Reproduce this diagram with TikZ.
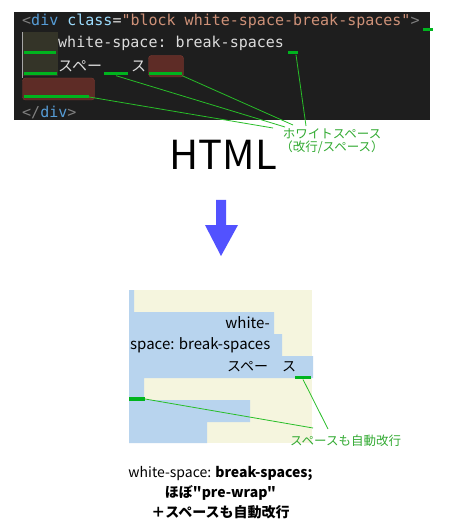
\documentclass[tikz,border=0pt]{standalone}
\usepackage{fontspec}
\setmonofont{DejaVu Sans Mono}
\newfontfamily\jp{Noto Sans CJK JP}
\definecolor{codebg}{RGB}{30,30,30}
\definecolor{cgray}{RGB}{128,128,128}
\definecolor{cblue}{RGB}{86,156,214}
\definecolor{clblue}{RGB}{156,220,254}
\definecolor{corange}{RGB}{206,145,120}
\definecolor{cwhite}{RGB}{220,220,220}
\definecolor{olivebox}{RGB}{52,52,40}
\definecolor{redfill}{RGB}{94,44,38}
\definecolor{redline}{RGB}{125,58,50}
\definecolor{mark}{RGB}{0,180,30}
\definecolor{gline}{RGB}{40,190,40}
\definecolor{glabel}{RGB}{50,170,50}
\definecolor{arrowblue}{RGB}{82,82,255}
\definecolor{pblue}{RGB}{184,212,238}
\definecolor{pbeige}{RGB}{245,245,222}
\begin{document}
\begin{tikzpicture}[x=1pt,y=-1pt,
  code/.style={anchor=west,inner sep=0pt,font=\ttfamily\fontsize{15}{15}\selectfont,text=cwhite},
  codejp/.style={anchor=west,inner sep=0pt,font=\jp\fontsize{15}{15}\selectfont,text=cwhite},
  gmark/.style={fill=mark,inner sep=0pt,minimum height=3pt},
  glink/.style={draw=gline,line width=0.8pt},
  glab/.style={inner sep=0pt,font=\jp\fontsize{12.5}{13}\selectfont,text=glabel,align=center},
  ptext/.style={inner sep=0pt,font=\jp\fontsize{14}{14}\selectfont,text=black},
  ptextl/.style={inner sep=0pt,font=\jp\fontsize{15}{15}\selectfont,text=black},
  btext/.style={inner sep=0pt,font=\jp\fontsize{14}{20}\selectfont,text=black,align=center}]
\useasboundingbox (0,0) rectangle (448,529);
\fill[white] (0,0) rectangle (448,529);
% code block
\fill[codebg] (14,12) rectangle (430,120);
\fill[olivebox] (22,32) rectangle (58,76);
\draw[redline,fill=redfill,rounded corners=3pt] (148.5,55.5) rectangle (183.5,77);
\draw[redline,fill=redfill,rounded corners=3pt] (22.5,78) rectangle (94.5,100);
\draw[cgray!70,line width=0.6pt] (22.3,32) -- (22.3,78);
\node[code] (l1) at (22,21) {\textcolor{cgray}{<}\textcolor{cblue}{div} \textcolor{clblue}{class}=\textcolor{corange}{"block white-space-break-spaces"}\textcolor{cgray}{>}};
\node[code] (l2) at (58,43) {white-space: break-spaces};
\node[codejp] (l3a) at (58,66) {スペー};
\node[codejp] (l3b) at (131,66) {ス};
\node[code] (l5) at (22,112) {\textcolor{cgray}{</}\textcolor{cblue}{div}\textcolor{cgray}{>}};
% green marks
\node[gmark,minimum width=10pt] (m1) at (428,30) {};
\node[gmark,minimum width=32pt] (m2) at (40,53) {};
\node[gmark,minimum width=10pt] (m3) at (293,53) {};
\node[gmark,minimum width=33pt] (m4) at (40.5,74) {};
\node[gmark,minimum width=24pt] (m5) at (116,74) {};
\node[gmark,minimum width=33pt] (m6) at (165.5,74) {};
\node[gmark,minimum width=65pt] (m7) at (56.5,97) {};
% label
\node[glab] (lab1) at (332,141.5) {ホワイトスペース\\（改行/スペース）};
\coordinate (e7) at (273,128);
\coordinate (e5) at (285,127);
\coordinate (e6) at (293,125);
\coordinate (e3) at (306,126);
\draw[glink] (m7.east) -- (e7);
\draw[glink] (m5.south) -- (e5);
\draw[glink] (m6.south east) -- (e6);
\draw[glink] ([xshift=3pt]m3.south) -- (e3);
% HTML
\node[inner sep=0pt,font=\jp\fontsize{40}{40}\selectfont] (html) at (223.5,155) {HTML};
% arrow
\fill[arrowblue] (216,200) -- (226,200) -- (226,225) -- (238,225) -- (221,256) -- (205,225) -- (216,225) -- cycle;
% panel
\fill[pbeige] (129,290) rectangle (312,443);
\fill[pblue] (129,290) -- (134,290) -- (134,312) -- (274,312) -- (274,334) -- (282,334) -- (282,356) -- (313,356) -- (313,378) -- (144,378) -- (144,400) -- (250,400) -- (250,422) -- (207,422) -- (207,443) -- (129,443) -- cycle;
\node[ptextl,anchor=east] (p1) at (270,323) {white-};
\node[ptextl,anchor=west] (p2) at (130,345) {space: break-spaces};
\node[ptext,anchor=west] (p3) at (227,367) {スペー　ス};
\node[gmark,minimum width=16pt,minimum height=3.5pt] (q1) at (303,377.5) {};
\node[gmark,minimum width=16pt,minimum height=3.5pt] (q2) at (137,399) {};
\node[glab] (lab2) at (345.5,441) {スペースも自動改行};
\coordinate (f1) at (328,429);
\coordinate (f2) at (313,428);
\draw[glink] (q1.south) -- (f1);
\draw[glink] (q2.east) -- (f2);
% bottom text
\node[btext] (cap) at (220.5,492.5) {white-space: \textbf{break-spaces;}\\\textbf{ほぼ"pre-wrap"}\\\textbf{＋スペースも自動改行}};
\end{tikzpicture}
\end{document}
